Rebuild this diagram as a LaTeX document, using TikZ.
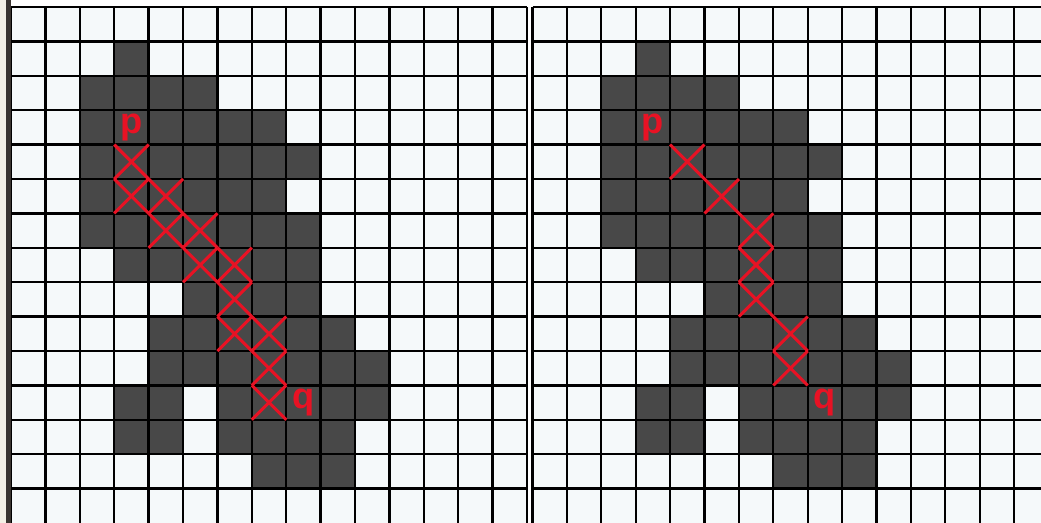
\documentclass[tikz,border=0pt]{standalone}
\usepackage{fontspec}
\setsansfont{Liberation Sans}
\usepackage{xcolor}
\usepackage{tikz}
\definecolor{cellwhite}{RGB}{245,249,250}
\definecolor{celldark}{RGB}{72,72,72}
\definecolor{markred}{RGB}{232,18,36}
\definecolor{edgebeige}{RGB}{244,240,229}
\definecolor{edgedark}{RGB}{58,52,48}

\begin{document}
\begin{tikzpicture}[
    x=0.6cm, y=-0.6cm,
    grid_line/.style={black, line width=1.1pt},
    dark_cell/.style={fill=celldark},
    cross_mark/.style={markred, line width=1.5pt},
    point_label/.style={text=markred, inner sep=0pt, font=\sffamily\bfseries\fontsize{18}{18}\selectfont}
]
\clip (-0.32,-0.2035) rectangle (29.942,15);
\fill[white] (-0.32,-0.2035) rectangle (29.942,15);
\fill[edgebeige] (-0.32,-0.2035) rectangle (-0.13,15);

\foreach \ox in {0,15.16} {
  \fill[cellwhite] (\ox,0) rectangle (\ox+15,15);
  \foreach \r/\cols in {1/{3}, 2/{2,...,5}, 3/{2,...,7}, 4/{2,...,8}, 5/{2,...,7},
      6/{2,...,8}, 7/{3,...,8}, 8/{5,...,8}, 9/{4,...,9}, 10/{4,...,10},
      11/{3,4,6,7,8,9,10}, 12/{3,4,6,7,8,9}, 13/{7,8,9}} {
    \foreach \c in \cols
      \fill[dark_cell] (\ox+\c,\r) rectangle ++(1,1);
  }
  \foreach \i in {0,...,15}
    \draw[grid_line] (\ox+\i,0) -- (\ox+\i,15);
  \foreach \j in {0,...,14}
    \draw[grid_line] (\ox,\j) -- (\ox+15,\j);
}
\draw[edgedark, line width=2.5pt] (-0.07,-0.2035) -- (-0.07,15);

\foreach \r/\c in {4/3, 5/3, 5/4, 6/4, 6/5, 7/5, 7/6, 8/6, 9/6, 9/7, 10/7, 11/7}
  \draw[cross_mark] (\c,\r) -- ++(1,1) (\c+1,\r) -- ++(-1,1);
\foreach \r/\c in {4/4, 5/5, 6/6, 7/6, 8/6, 9/7, 10/7}
  \draw[cross_mark] (15.16+\c,\r) -- ++(1,1) (15.16+\c+1,\r) -- ++(-1,1);

\node[point_label] (p_left) at (3.5,3.5) {p};
\node[point_label] (q_left) at (8.5,11.5) {q};
\node[point_label] (p_right) at (18.66,3.5) {p};
\node[point_label] (q_right) at (23.66,11.5) {q};
\end{tikzpicture}
\end{document}
